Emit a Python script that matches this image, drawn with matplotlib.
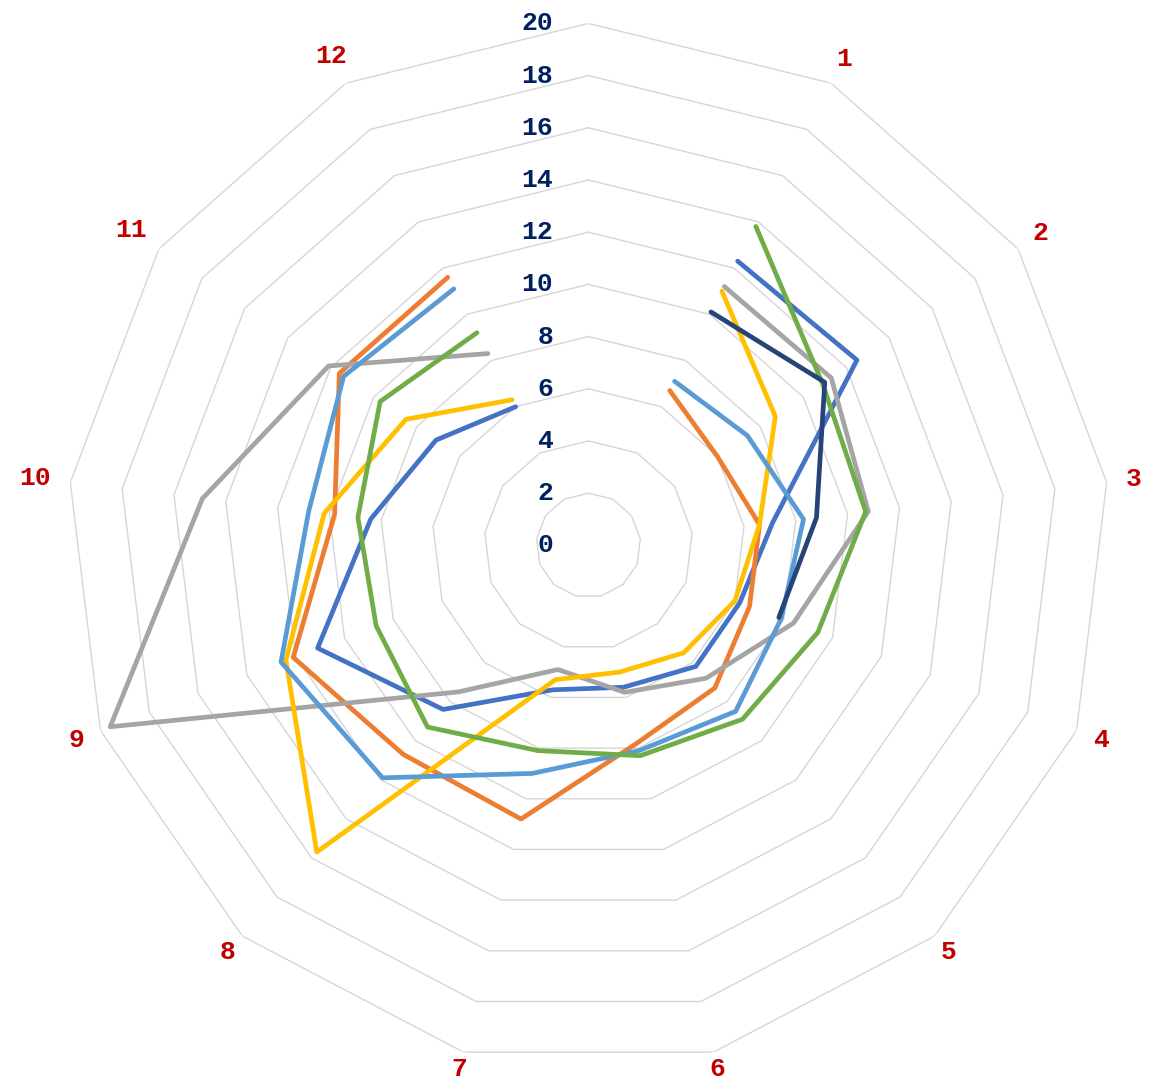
import numpy as np
import matplotlib
matplotlib.use('Agg')
import matplotlib.pyplot as plt

nan = np.nan

# 13 spokes, the first (top) one has no label
categories = ['', '1', '2', '3', '4', '5', '6', '7', '8', '9', '10', '11', '12']
ring_levels = [2, 4, 6, 8, 10, 12, 14, 16, 18, 20]
tick_labels = ['0', '2', '4', '6', '8', '10', '12', '14', '16', '18', '20']

s_blue = [nan, 12.3, 12.5, 7.1, 6.2, 6.2, 5.6, 5.7, 8.4, 11.1, 8.4, 7.1, 6.0]
s_orange = [nan, 6.7, 6.0, 6.6, 6.6, 7.3, 7.8, 10.8, 10.7, 12.1, 9.8, 11.6, 11.6]
s_gray = [nan, 11.2, 11.3, 10.8, 8.4, 6.8, 5.8, 4.9, 7.5, 19.6, 14.9, 12.1, 8.3]
s_yellow = [nan, 11.0, 8.7, 6.6, 6.0, 5.5, 5.0, 5.3, 15.7, 12.4, 10.2, 8.5, 6.3]
s_lightblue = [nan, 7.1, 7.4, 8.3, 7.9, 8.5, 8.1, 9.0, 11.9, 12.6, 10.8, 11.4, 11.1]
s_green = [nan, 13.8, 10.9, 10.7, 9.4, 8.9, 8.3, 8.1, 9.3, 8.7, 8.9, 9.7, 9.2]
s_navy = [nan, 10.1, 11.0, 8.8, 7.8, nan, nan, nan, nan, nan, nan, nan, nan]

series = [s_blue, s_orange, s_gray, s_yellow, s_lightblue, s_green, s_navy]
colors = ['#4472C4', '#ED7D31', '#A5A5A5', '#FFC000', '#5B9BD5', '#70AD47', '#264478']

N = len(categories)
angles = np.arange(N) * 2 * np.pi / N
ring_angles = np.append(angles, angles[0])

fig = plt.figure(figsize=(11.71, 10.81), dpi=100)
ax = fig.add_axes([0.0568, 0.0126, 0.8915, 0.9658], projection='polar')
ax.set_theta_offset(np.pi / 2)
ax.set_theta_direction(-1)
ax.set_ylim(0, 20)
ax.grid(False)
ax.spines['polar'].set_visible(False)
ax.set_xticks([])
ax.set_yticks([])
ax.patch.set_alpha(0)

# polygon rings
for lvl in ring_levels:
    ax.plot(ring_angles, [lvl] * len(ring_angles), color='#D6D6D6', lw=1.0, zorder=1)

# series
for vals, c in zip(series, colors):
    ax.plot(angles, vals, color=c, lw=3.4, solid_capstyle='round',
            solid_joinstyle='round', zorder=3)

# value axis labels along the top spoke
for i, t in enumerate(tick_labels):
    ax.annotate(t, xy=(0, 2 * i), xytext=(-35, 0), textcoords='offset pixels',
                ha='right', va='center', fontsize=19, fontweight='bold',
                family='Liberation Mono', color='#002060', annotation_clip=False, zorder=4)

# category labels
for a, lab in zip(angles, categories):
    r = 21.05 + 0.3 * (len(lab) - 1) * abs(np.sin(a)) - 0.4 * max(0, -np.cos(a)) ** 2
    ax.text(a, r, lab, ha='center', va='center', fontsize=19, fontweight='bold',
            family='Liberation Mono', color='#C00000', clip_on=False)

fig.savefig('out.png', dpi=100)
